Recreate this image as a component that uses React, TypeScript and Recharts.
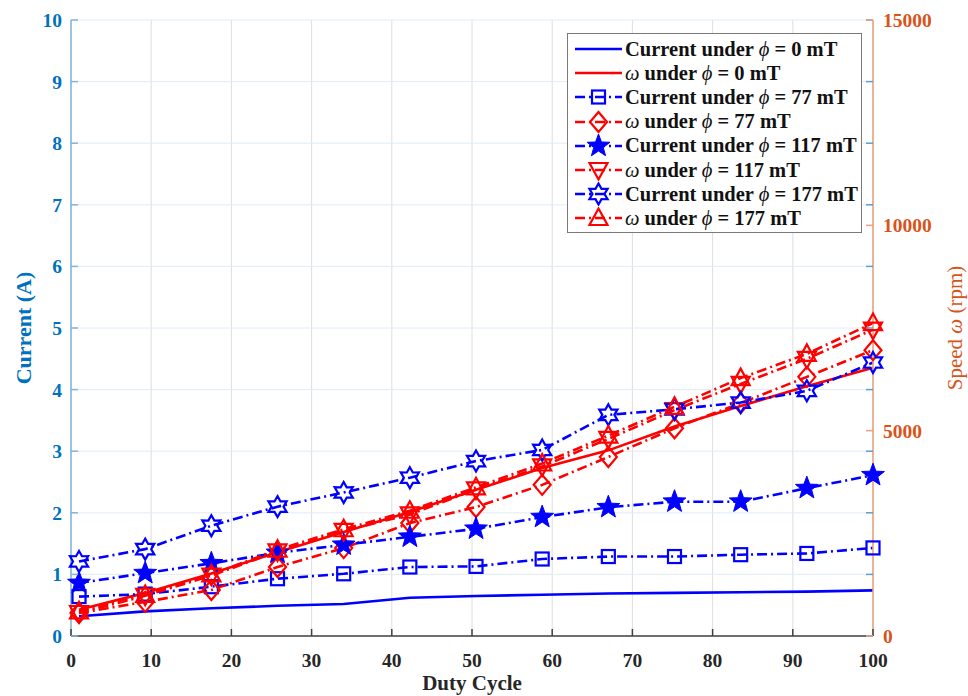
import React from 'react';
import { ComposedChart, Line, XAxis, YAxis, CartesianGrid, Legend, Label } from 'recharts';

// ---------- data ----------
const dutyCycle = [1, 9.25, 17.5, 25.75, 34, 42.25, 50.5, 58.75, 67, 75.25, 83.5, 91.75, 100];
const current0 = [0.32, 0.4, 0.45, 0.49, 0.52, 0.62, 0.65, 0.67, 0.69, 0.7, 0.71, 0.72, 0.74];
const speed0 = [640, 1050, 1520, 2040, 2530, 3020, 3560, 4090, 4520, 5100, 5600, 6080, 6530];
const current77 = [0.64, 0.68, 0.8, 0.93, 1.01, 1.12, 1.13, 1.25, 1.29, 1.29, 1.32, 1.34, 1.43];
const speed77 = [560, 830, 1120, 1680, 2140, 2750, 3140, 3680, 4360, 5060, 5670, 6310, 6960];
const current117 = [0.86, 1.02, 1.18, 1.35, 1.48, 1.61, 1.74, 1.93, 2.09, 2.18, 2.18, 2.4, 2.61];
const speed117 = [560, 980, 1470, 2060, 2560, 2960, 3570, 4130, 4800, 5500, 6140, 6750, 7460];
const current177 = [1.21, 1.41, 1.79, 2.1, 2.33, 2.57, 2.84, 3.02, 3.59, 3.68, 3.79, 3.98, 4.44];
const speed177 = [600, 1000, 1500, 2100, 2600, 3050, 3620, 4200, 4880, 5580, 6280, 6870, 7620];

const xTicks = [0, 10, 20, 30, 40, 50, 60, 70, 80, 90, 100];
const currentTicks = [0, 1, 2, 3, 4, 5, 6, 7, 8, 9, 10];
const speedTicks = [0, 5000, 10000, 15000];

const fieldLabels = ['0', '0', '77', '77', '117', '117', '177', '177'];
const seriesKinds = ['Current', 'ω', 'Current', 'ω', 'Current', 'ω', 'Current', 'ω'];

const data = dutyCycle.map((d, i) => ({
  duty: d,
  c0: current0[i],
  w0: speed0[i],
  c77: current77[i],
  w77: speed77[i],
  c117: current117[i],
  w117: speed117[i],
  c177: current177[i],
  w177: speed177[i],
}));

// ---------- style ----------
const W = 968;
const H = 696;
const LEFT_W = 71;
const RIGHT_W = 95;
const TOP = 20;
const XAXIS_H = 60;
const PLOT_W = W - LEFT_W - RIGHT_W;
const PLOT_H = H - TOP - XAXIS_H;
const FONT = "'Liberation Serif', 'Times New Roman', serif";
const BLUE = '#0000FF';
const RED = '#FF0000';
const AX_BLUE = '#0072BD';
const AX_ORANGE = '#D95319';
const DASHDOT = '10 4 2 4';

type MarkerKind = 'none' | 'square' | 'diamond' | 'star' | 'down' | 'hexagram' | 'up';

function starPoints(cx: number, cy: number, n: number, ro: number, ri: number) {
  const pts: string[] = [];
  for (let k = 0; k < 2 * n; k++) {
    const r = k % 2 === 0 ? ro : ri;
    const a = -Math.PI / 2 + (k * Math.PI) / n;
    pts.push(`${cx + r * Math.cos(a)},${cy + r * Math.sin(a)}`);
  }
  return pts.join(' ');
}

function Marker({ kind, cx, cy, color }: { kind: MarkerKind; cx: number; cy: number; color: string }) {
  if (cx == null || cy == null || kind === 'none') return null;
  const sw = 2.2;
  switch (kind) {
    case 'square':
      return <rect x={cx - 6.5} y={cy - 6.5} width={13} height={13} fill="none" stroke={color} strokeWidth={sw} />;
    case 'diamond':
      return (
        <polygon
          points={`${cx},${cy - 10} ${cx + 8.5},${cy} ${cx},${cy + 10} ${cx - 8.5},${cy}`}
          fill="none"
          stroke={color}
          strokeWidth={sw}
        />
      );
    case 'star':
      return <polygon points={starPoints(cx, cy, 5, 12, 5)} fill={color} stroke={color} strokeWidth={1} />;
    case 'hexagram':
      return <polygon points={starPoints(cx, cy, 6, 10.5, 6)} fill="none" stroke={color} strokeWidth={sw} />;
    case 'down':
      return (
        <polygon
          points={`${cx - 9},${cy - 7} ${cx + 9},${cy - 7} ${cx},${cy + 9.5}`}
          fill="none"
          stroke={color}
          strokeWidth={sw}
        />
      );
    case 'up':
      return (
        <polygon
          points={`${cx - 9},${cy + 7} ${cx + 9},${cy + 7} ${cx},${cy - 9.5}`}
          fill="none"
          stroke={color}
          strokeWidth={sw}
        />
      );
    default:
      return null;
  }
}

const seriesDefs: { key: string; axis: string; color: string; dash?: string; marker: MarkerKind }[] = [
  { key: 'c0', axis: 'left', color: BLUE, marker: 'none' },
  { key: 'w0', axis: 'right', color: RED, marker: 'none' },
  { key: 'c77', axis: 'left', color: BLUE, dash: DASHDOT, marker: 'square' },
  { key: 'w77', axis: 'right', color: RED, dash: DASHDOT, marker: 'diamond' },
  { key: 'c117', axis: 'left', color: BLUE, dash: DASHDOT, marker: 'star' },
  { key: 'w117', axis: 'right', color: RED, dash: DASHDOT, marker: 'down' },
  { key: 'c177', axis: 'left', color: BLUE, dash: DASHDOT, marker: 'hexagram' },
  { key: 'w177', axis: 'right', color: RED, dash: DASHDOT, marker: 'up' },
];

// ---------- ticks ----------
const BottomTick = (props: any) => {
  const { x, y, payload } = props;
  return (
    <g>
      <line x1={x} x2={x} y1={y} y2={y - 7} stroke="#404040" strokeWidth={1.5} />
      <text x={x} y={y + 31} textAnchor="middle" fontFamily={FONT} fontWeight="bold" fontSize={19.5} fill="#262626">
        {payload.value}
      </text>
    </g>
  );
};

const TopTick = (props: any) => {
  const { x, y } = props;
  return <line x1={x} x2={x} y1={y} y2={y + 7} stroke="#404040" strokeWidth={1.5} />;
};

const LeftTick = (props: any) => {
  const { x, y, payload } = props;
  return (
    <g>
      <line x1={x} x2={x + 7} y1={y} y2={y} stroke="#7fb5de" strokeWidth={1.5} />
      <line x1={x + PLOT_W - 7} x2={x + PLOT_W} y1={y} y2={y} stroke="#5aa0d8" strokeWidth={1.5} />
      <text x={x - 9} y={y + 7} textAnchor="end" fontFamily={FONT} fontWeight="bold" fontSize={19.5} fill={AX_BLUE}>
        {payload.value}
      </text>
    </g>
  );
};

const RightTick = (props: any) => {
  const { x, y, payload } = props;
  return (
    <g>
      <line x1={x} x2={x - 7} y1={y} y2={y} stroke="#eaa07c" strokeWidth={1.5} />
      <text x={x + 10} y={y + 7} textAnchor="start" fontFamily={FONT} fontWeight="bold" fontSize={19.5} fill={AX_ORANGE}>
        {payload.value}
      </text>
    </g>
  );
};

// ---------- legend ----------
const LegendBox = () => (
  <div
    style={{
      position: 'absolute',
      left: 567,
      top: 33,
      width: 295,
      boxSizing: 'border-box',
      border: '1px solid #7a7a7a',
      background: '#fff',
      paddingTop: 3,
      paddingBottom: 1,
      fontFamily: FONT,
      fontWeight: 'bold',
      fontSize: 20.5,
      color: '#111',
    }}
  >
    {seriesDefs.map((s, i) => (
      <div key={s.key} style={{ display: 'flex', alignItems: 'center', height: 24.2, whiteSpace: 'nowrap' }}>
        <svg width={57} height={24} style={{ flex: 'none' }}>
          <line x1={7} x2={54} y1={12} y2={12} stroke={s.color} strokeWidth={2.5} strokeDasharray={s.dash} />
          <Marker kind={s.marker} cx={30.5} cy={12} color={s.color} />
        </svg>
        <span>
          {seriesKinds[i] === 'ω' ? <i style={{ fontWeight: 'normal' }}>ω</i> : seriesKinds[i]} under{' '}
          <i style={{ fontWeight: 'normal' }}>ϕ</i> = {fieldLabels[i]} mT
        </span>
      </div>
    ))}
  </div>
);

export default function App() {
  return (
    <div style={{ position: 'absolute', left: 0, top: 0, width: W, height: H, background: '#fff' }}>
      <ComposedChart width={W} height={H} data={data} margin={{ top: TOP, right: 0, bottom: 0, left: 0 }}>
        <CartesianGrid horizontal={false} vertical stroke="#dedede" strokeWidth={1} xAxisId="bottom" yAxisId="left" />
        <CartesianGrid horizontal vertical={false} stroke="#e1ecf6" strokeWidth={1} xAxisId="bottom" yAxisId="left" />
        <XAxis
          xAxisId="bottom"
          dataKey="duty"
          type="number"
          domain={[0, 100]}
          ticks={xTicks}
          height={XAXIS_H}
          tickSize={0}
          tickMargin={0}
          tick={<BottomTick />}
          axisLine={{ stroke: '#404040', strokeWidth: 1.5 }}
          tickLine={false}
          interval={0}
        >
          <Label
            content={() => (
              <text x={LEFT_W + PLOT_W / 2} y={690} textAnchor="middle" fontFamily={FONT} fontWeight="bold" fontSize={21} fill="#262626">
                Duty Cycle
              </text>
            )}
          />
        </XAxis>
        <XAxis
          xAxisId="top"
          orientation="top"
          dataKey="duty"
          type="number"
          domain={[0, 100]}
          ticks={xTicks.slice(1, -1)}
          height={0}
          tickSize={0}
          tickMargin={0}
          tick={<TopTick />}
          axisLine={{ stroke: '#707070', strokeWidth: 1.5 }}
          tickLine={false}
          interval={0}
        />
        <YAxis
          yAxisId="left"
          orientation="left"
          width={LEFT_W}
          domain={[0, 10]}
          ticks={currentTicks}
          tickSize={0}
          tickMargin={0}
          tick={<LeftTick />}
          axisLine={{ stroke: '#7fb5de', strokeWidth: 1.5 }}
          tickLine={false}
          interval={0}
        >
          <Label
            content={() => (
              <text
                x={31}
                y={TOP + PLOT_H / 2}
                transform={`rotate(-90, 31, ${TOP + PLOT_H / 2})`}
                textAnchor="middle"
                fontFamily={FONT}
                fontWeight="bold"
                fontSize={22}
                fill={AX_BLUE}
              >
                Current (A)
              </text>
            )}
          />
        </YAxis>
        <YAxis
          yAxisId="right"
          orientation="right"
          width={RIGHT_W}
          domain={[0, 15000]}
          ticks={speedTicks}
          tickSize={0}
          tickMargin={0}
          tick={<RightTick />}
          axisLine={{ stroke: '#eaa07c', strokeWidth: 1.5 }}
          tickLine={false}
          interval={0}
        >
          <Label
            content={() => (
              <text
                x={962}
                y={TOP + PLOT_H / 2}
                transform={`rotate(-90, 962, ${TOP + PLOT_H / 2})`}
                textAnchor="middle"
                fontFamily={FONT}
                fontSize={21}
                fill={AX_ORANGE}
              >
                Speed <tspan fontStyle="italic">ω</tspan> (rpm)
              </text>
            )}
          />
        </YAxis>
        {seriesDefs.map((s) => (
          <Line
            key={s.key}
            xAxisId="bottom"
            yAxisId={s.axis}
            dataKey={s.key}
            type="linear"
            stroke={s.color}
            strokeWidth={2.6}
            strokeDasharray={s.dash}
            isAnimationActive={false}
            dot={
              s.marker === 'none'
                ? false
                : (p: any) => <Marker key={`${s.key}-${p.index}`} kind={s.marker} cx={p.cx} cy={p.cy} color={s.color} />
            }
            activeDot={false}
          />
        ))}
        <Legend
          layout="vertical"
          align="center"
          verticalAlign="middle"
          content={() => <LegendBox />}
          wrapperStyle={{ position: 'absolute', left: 0, top: 0, width: 0, height: 0 }}
        />
      </ComposedChart>
    </div>
  );
}
